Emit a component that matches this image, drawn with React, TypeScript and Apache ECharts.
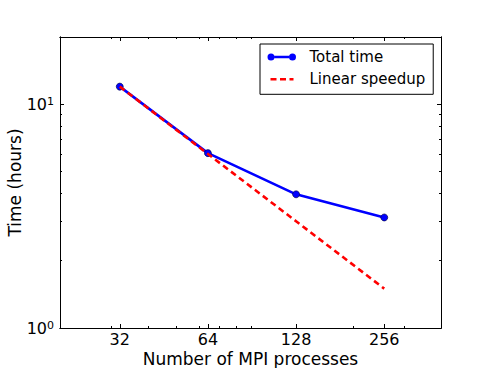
import React, { useEffect, useRef } from "react";
import * as echarts from "echarts";

const processes = [32, 64, 128, 256];
const totalTime = [12, 6.05, 3.96, 3.12];
const linearSpeedup = [12, 6, 3, 1.5];
const xMajorTicks = [32, 64, 128, 256];
const xMinorTicks = [30, 40, 50, 60, 70, 80, 90, 200, 300];
const yMajorTicks = [1, 10];
const yMinorTicks = [2, 3, 4, 5, 6, 7, 8, 9, 20];
const xRange = [20, 400];
const yRange = [1, 20];
const seriesNames = ["Total time", "Linear speedup"];

const FONT = "DejaVu Sans";
const lg = (v: number) => Math.log10(v);

const corners = "M0,0h0.02v0.02h-0.02Z M36.98,15.98h0.02v0.02h-0.02Z ";
const blueIcon =
  "path://" +
  corners +
  "M0,8a3.5,3.5 0 1,0 7,0a3.5,3.5 0 1,0 -7,0Z " +
  "M21.5,8a3.5,3.5 0 1,0 7,0a3.5,3.5 0 1,0 -7,0Z " +
  "M6.9,6.75H21.6V9.25H6.9Z";
const redIcon =
  "path://" +
  corners +
  "M3,6.75H9V9.25H3Z M12.5,6.75H18.5V9.25H12.5Z M22,6.75H26V9.25H22Z";

function xAxisDef(pos: "bottom" | "top", ticks: number[], len: number, labels: boolean, name?: string) {
  return {
    type: "value",
    position: pos,
    min: lg(xRange[0]),
    max: lg(xRange[1]),
    splitLine: { show: false },
    axisLine: { show: true, onZero: false, lineStyle: { color: "#000", width: 1 } },
    axisTick: {
      show: true,
      inside: true,
      length: len,
      customValues: ticks.map(lg),
      lineStyle: { color: "#000", width: 1 },
    },
    axisLabel: {
      show: labels,
      customValues: xMajorTicks.map(lg),
      formatter: (v: number) => String(Math.round(Math.pow(10, v))),
      color: "#000",
      fontFamily: FONT,
      fontSize: 16,
      lineHeight: 14,
      margin: 4.5,
    },
    name: name,
    nameLocation: "middle",
    nameGap: 23,
    nameMoveOverlap: false,
    nameTextStyle: { color: "#000", fontFamily: FONT, fontSize: 17, lineHeight: 15, verticalAlign: "top" },
  };
}

function yAxisDef(pos: "left" | "right", ticks: number[], len: number, labels: boolean, name?: string) {
  return {
    type: "value",
    position: pos,
    min: lg(yRange[0]),
    max: lg(yRange[1]),
    splitLine: { show: false },
    axisLine: { show: true, onZero: false, lineStyle: { color: "#000", width: 1 } },
    axisTick: {
      show: true,
      inside: true,
      length: len,
      customValues: ticks.map(lg),
      lineStyle: { color: "#000", width: 1 },
    },
    axisLabel: {
      show: labels,
      customValues: yMajorTicks.map(lg),
      formatter: (v: number) => `{b|10}{s|${Math.round(v)}}`,
      margin: 6,
      rich: {
        b: { color: "#000", fontFamily: FONT, fontSize: 16 },
        s: { color: "#000", fontFamily: FONT, fontSize: 11, padding: [0, 0, 6, 0] },
      },
    },
    name: name,
    nameLocation: "middle",
    nameGap: 37,
    nameRotate: 90,
    nameMoveOverlap: false,
    nameTextStyle: { color: "#000", fontFamily: FONT, fontSize: 17, lineHeight: 17 },
  };
}

export default function App() {
  const ref = useRef<HTMLDivElement>(null);
  useEffect(() => {
    if (!ref.current) return;
    const chart = echarts.init(ref.current, undefined, { renderer: "svg" });
    chart.setOption({
      animation: false,
      backgroundColor: "#fff",
      grid: { left: 60, top: 37, right: 50, bottom: 40, containLabel: false, outerBoundsMode: "none" },
      xAxis: [
        xAxisDef("bottom", xMajorTicks, 4, true, "Number of MPI processes"),
        xAxisDef("bottom", xMinorTicks, 2, false),
        xAxisDef("top", xMajorTicks, 4, false),
        xAxisDef("top", xMinorTicks, 2, false),
      ],
      yAxis: [
        yAxisDef("left", yMajorTicks, 4, true, "Time (hours)"),
        yAxisDef("left", yMinorTicks, 2, false),
        yAxisDef("right", yMajorTicks, 4, false),
        yAxisDef("right", yMinorTicks, 2, false),
      ],
      legend: {
        left: 260,
        top: 44,
        orient: "vertical",
        padding: [5, 8, 7, 7.5],
        itemGap: 6.3,
        itemWidth: 37,
        itemHeight: 16,
        backgroundColor: "#fff",
        borderColor: "#000",
        borderWidth: 1,
        borderRadius: 0,
        itemStyle: { borderWidth: 0 },
        textStyle: { color: "#000", fontFamily: FONT, fontSize: 15, lineHeight: 16 },
        data: [
          { name: seriesNames[0], icon: blueIcon },
          { name: seriesNames[1], icon: redIcon },
        ],
      },
      series: [
        {
          name: seriesNames[0],
          type: "line",
          xAxisIndex: 0,
          yAxisIndex: 0,
          data: processes.map((p, i) => [lg(p), lg(totalTime[i])]),
          lineStyle: { color: "#0000ff", width: 2.6 },
          itemStyle: { color: "#0000ff", borderColor: "#000033", borderWidth: 0.6 },
          symbol: "circle",
          symbolSize: 7,
          showSymbol: true,
          z: 3,
        },
        {
          name: seriesNames[1],
          type: "line",
          xAxisIndex: 0,
          yAxisIndex: 0,
          data: processes.map((p, i) => [lg(p), lg(linearSpeedup[i])]),
          lineStyle: { color: "#ff0000", width: 2.6, type: [6, 4] },
          itemStyle: { color: "#ff0000" },
          symbol: "none",
          z: 4,
        },
      ],
    });
    return () => chart.dispose();
  }, []);
  return (
    <div
      ref={ref}
      style={{ position: "fixed", left: 0, top: 0, width: 491, height: 368, background: "#fff" }}
    />
  );
}
